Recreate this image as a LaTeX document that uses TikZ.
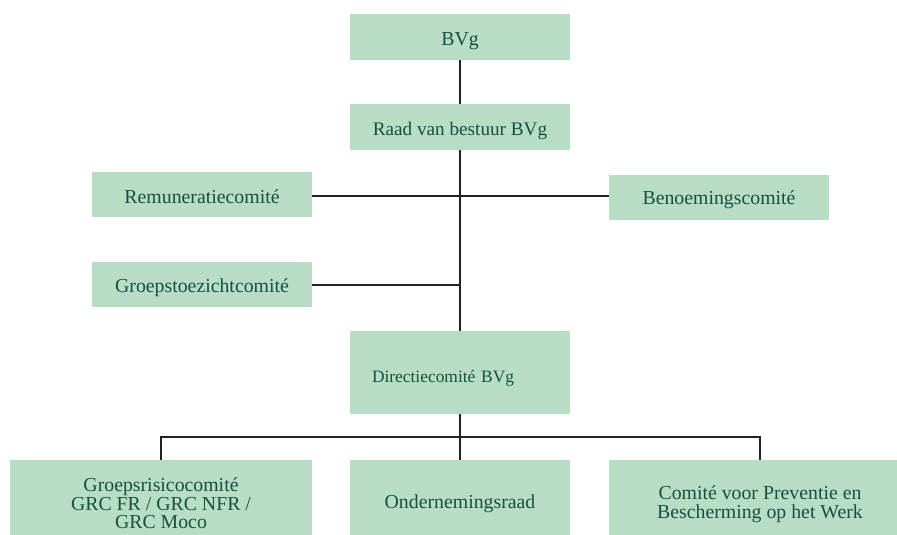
\documentclass[tikz,border=0pt]{standalone}
\usepackage{fontspec}
\setmainfont{Liberation Serif}
\definecolor{boxfill}{HTML}{B7DDC5}
\definecolor{boxtext}{HTML}{184F40}
\definecolor{linecol}{HTML}{222222}
\newcommand{\lowerby}[1]{\rule{0pt}{#1pt}}
\begin{document}
\begin{tikzpicture}[x=1pt,y=-1pt,
  orgbox/.style={fill=boxfill, text=boxtext, font=\fontsize{19.8}{18.7}\selectfont,
    minimum width=220pt, minimum height=46pt, inner sep=2pt, align=center},
  conn/.style={draw=linecol, line width=1.1pt}]
\useasboundingbox (0,0) rectangle (897,535);
\node[orgbox] (bvg) at (460,37) {\lowerby{21.5}BVg};
\node[orgbox, font=\fontsize{19.2}{19}\selectfont] (raad) at (460,127) {\lowerby{21.5}Raad van bestuur BVg};
\node[orgbox, minimum height=45pt] (rem) at (202,194.5) {\lowerby{17.7}Remuneratiecomité};
\node[orgbox, minimum height=45pt] (ben) at (719,197) {\lowerby{19.7}Benoemingscomité};
\node[orgbox, minimum height=45pt] (gtz) at (202,284.5) {\lowerby{19.7}Groepstoezichtcomité};
\node[orgbox, font=\fontsize{17.4}{19}\selectfont, minimum height=83pt, text width=176pt, inner xsep=22pt, align=left] (dir) at (460,372.5) {\lowerby{24}Directiecomité BVg};
\node[orgbox, minimum width=302pt, minimum height=75pt] (grc) at (161,497.5) {\lowerby{25.7}Groepsrisicocomité\\GRC FR / GRC NFR /\\GRC Moco};
\node[orgbox, minimum height=75pt] (ond) at (460,497.5) {\lowerby{25.7}Ondernemingsraad};
\node[orgbox, minimum width=302pt, minimum height=75pt] (cpb) at (760,497.5) {\lowerby{27.7}Comité voor Preventie en\\Bescherming op het Werk};
\coordinate (remr) at (312,196);
\coordinate (gtzr) at (312,285);
\coordinate (lefttop) at (161,437);
\coordinate (righttop) at (760,437);
\draw[conn] (bvg.south) -- (raad.north);
\draw[conn] (raad.south) -- (dir.north);
\draw[conn] (remr) -- (remr -| ben.west);
\draw[conn] (gtzr) -- (gtzr -| raad.south);
\draw[conn] (dir.south) -- (ond.north);
\draw[conn] (grc.north) -- (lefttop) -- (righttop) -- (cpb.north);
\end{tikzpicture}
\end{document}
